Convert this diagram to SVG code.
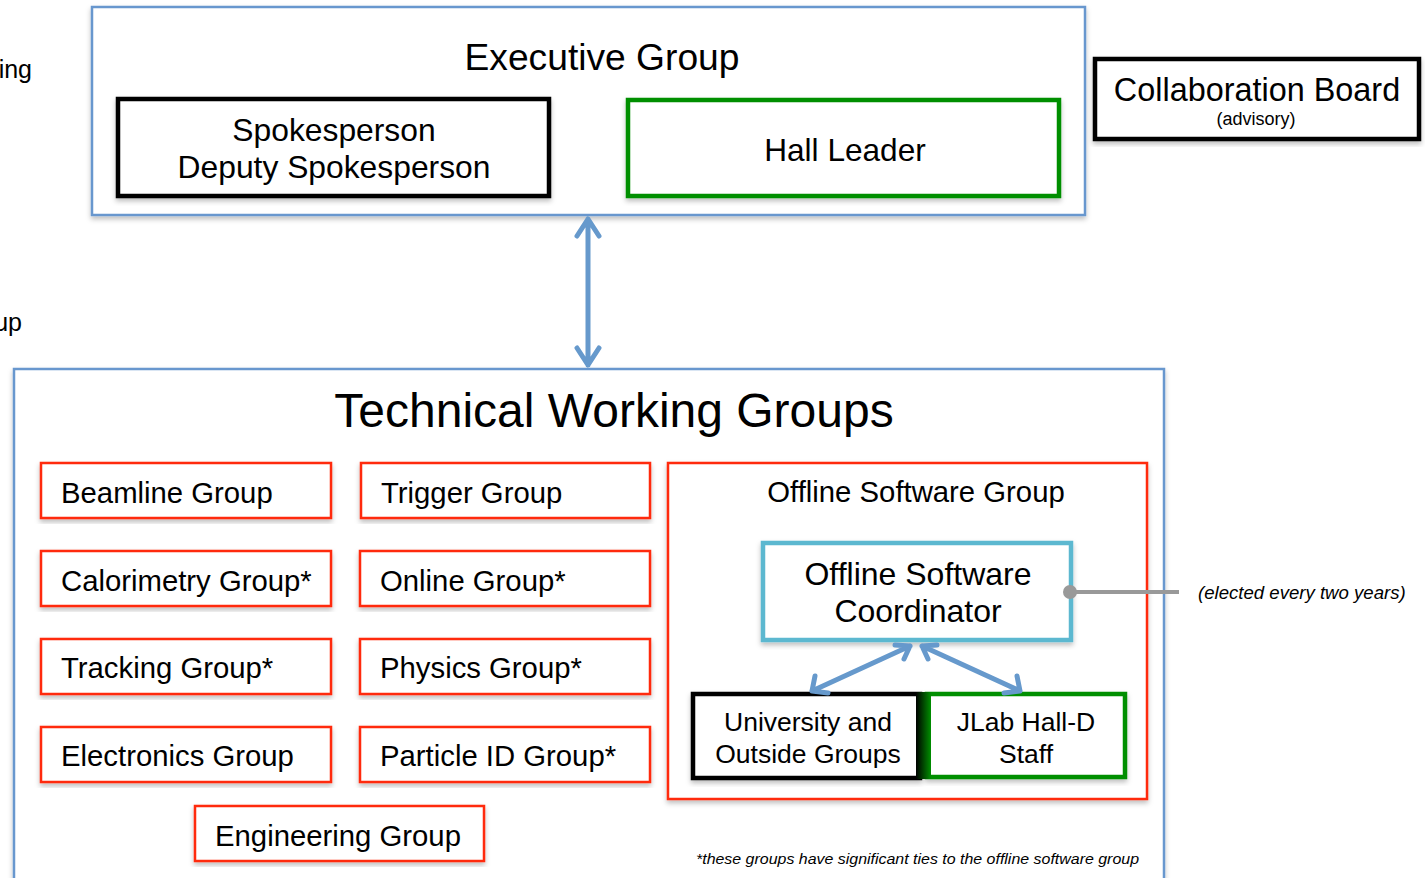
<svg xmlns="http://www.w3.org/2000/svg" width="1425" height="878" viewBox="0 0 1425 878">
<defs>
<style>
text{font-family:"Liberation Sans",Arial,sans-serif;fill:#000}
.frame{fill:#fff;stroke:#6797CE;stroke-width:2.5}
.blk{fill:#fff;stroke:#000;stroke-width:4.5}
.grn{fill:#fff;stroke:#008F00;stroke-width:4.5}
.red{fill:#fff;stroke:#FF2A0A;stroke-width:2.5}
.cyan{fill:#fff;stroke:#5BB8D0;stroke-width:4.5}
.arr{fill:none;stroke:#6699CC;stroke-width:5;stroke-linecap:round;stroke-linejoin:round}
.c{text-anchor:middle}
.g{font-size:29.3px}
</style>
<filter id="sh" x="-5%" y="-5%" width="110%" height="115%">
<feDropShadow dx="0" dy="3" stdDeviation="2.5" flood-color="#000" flood-opacity="0.25"/>
</filter>
<linearGradient id="jn" x1="0" x2="1" y1="0" y2="0">
<stop offset="0" stop-color="#000"/>
<stop offset="1" stop-color="#008F00"/>
</linearGradient>
</defs>
<rect width="1425" height="878" fill="#fff"/>

<text x="32" y="78" font-size="25" text-anchor="end">ing</text>
<text x="22" y="331" font-size="25" text-anchor="end">up</text>

<g id="executive">
<rect class="frame" x="92" y="7" width="993" height="208" filter="url(#sh)"/>
<text x="602" y="70" font-size="37.2" class="c">Executive Group</text>
</g>
<g id="spokesperson">
<rect class="blk" x="118" y="99" width="431" height="97" filter="url(#sh)"/>
<text x="334" y="141" font-size="31.8" class="c">Spokesperson</text>
<text x="334" y="178" font-size="31.8" class="c">Deputy Spokesperson</text>
</g>
<g id="hall-leader">
<rect class="grn" x="628" y="100" width="431" height="96" filter="url(#sh)"/>
<text x="845" y="161" font-size="31.6" class="c">Hall Leader</text>
</g>
<g id="collab-board">
<rect class="blk" x="1095" y="59" width="324" height="80" filter="url(#sh)"/>
<text x="1257" y="101" font-size="32.4" class="c">Collaboration Board</text>
<text x="1256" y="125" font-size="18" class="c">(advisory)</text>
</g>

<g id="technical">
<rect class="frame" x="14" y="369" width="1150" height="540" filter="url(#sh)"/>
<text x="614" y="427" font-size="48" class="c">Technical Working Groups</text>
<text x="696" y="864" font-size="15" font-style="italic" textLength="443" lengthAdjust="spacingAndGlyphs">*these groups have significant ties to the offline software group</text>
</g>

<g id="beamline"><rect class="red" x="41" y="463" width="290" height="55" filter="url(#sh)"/><text class="g" x="61" y="503">Beamline Group</text></g>
<g id="trigger"><rect class="red" x="361" y="463" width="289" height="55" filter="url(#sh)"/><text class="g" x="381" y="503">Trigger Group</text></g>
<g id="calorimetry"><rect class="red" x="41" y="551" width="290" height="55" filter="url(#sh)"/><text class="g" x="61" y="591">Calorimetry Group*</text></g>
<g id="online"><rect class="red" x="360" y="551" width="290" height="55" filter="url(#sh)"/><text class="g" x="380" y="591">Online Group*</text></g>
<g id="tracking"><rect class="red" x="41" y="639" width="290" height="55" filter="url(#sh)"/><text class="g" x="61" y="678">Tracking Group*</text></g>
<g id="physics"><rect class="red" x="360" y="639" width="290" height="55" filter="url(#sh)"/><text class="g" x="380" y="678">Physics Group*</text></g>
<g id="electronics"><rect class="red" x="41" y="727" width="290" height="55" filter="url(#sh)"/><text class="g" x="61" y="766">Electronics Group</text></g>
<g id="particle-id"><rect class="red" x="360" y="727" width="290" height="55" filter="url(#sh)"/><text class="g" x="380" y="766">Particle ID Group*</text></g>
<g id="engineering"><rect class="red" x="195" y="806" width="289" height="55" filter="url(#sh)"/><text class="g" x="215" y="846">Engineering Group</text></g>

<g id="offline-group">
<rect class="red" x="668" y="463" width="479" height="336" filter="url(#sh)"/>
<text x="916" y="502" font-size="29.3" class="c">Offline Software Group</text>
</g>
<g id="coordinator">
<rect class="cyan" x="763" y="543" width="308" height="97" filter="url(#sh)"/>
<text x="918" y="585" font-size="32" class="c">Offline Software</text>
<text x="918" y="622" font-size="32" class="c">Coordinator</text>
</g>
<g id="university">
<rect class="blk" x="693" y="694" width="227" height="84" filter="url(#sh)"/>
<text x="808" y="731" font-size="26.5" class="c">University and</text>
<text x="808" y="763" font-size="26.5" class="c">Outside Groups</text>
</g>
<g id="jlab">
<rect class="grn" x="927" y="694" width="198" height="83" filter="url(#sh)"/>
<rect x="916" y="692" width="15" height="87" fill="url(#jn)"/>
<text x="1026" y="731" font-size="26.5" class="c">JLab Hall-D</text>
<text x="1026" y="763" font-size="26.5" class="c">Staff</text>
</g>

<g id="elected-note">
<text x="1198" y="599" font-size="18.6" font-style="italic">(elected every two years)</text>
</g>

<g id="connectors">
<path class="arr" d="M588 219 V365 M577 236 L588 219 L599 236 M577 348 L588 365 L599 348"/>
<path class="arr" d="M910 646 L812 691 M815 676 L812 691 L828 693 M910 646 L895 645 M910 646 L904 659"/>
<path class="arr" d="M922 646 L1020 691 M1017 676 L1020 691 L1004 693 M922 646 L937 645 M922 646 L928 659"/>
<line x1="1070" y1="592" x2="1179" y2="592" stroke="#999" stroke-width="4"/>
<circle cx="1070" cy="592" r="7" fill="#999"/>
</g>
</svg>
